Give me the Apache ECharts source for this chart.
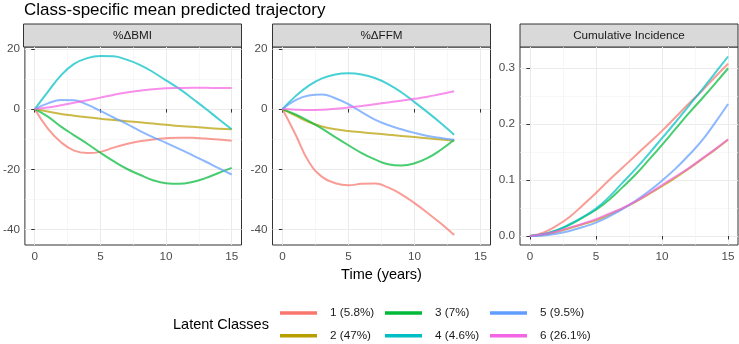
<!DOCTYPE html>
<html>
<head>
<meta charset="utf-8">
<script src="https://cdn.jsdelivr.net/npm/echarts@6/dist/echarts.min.js"></script>
<style>
html,body{margin:0;padding:0;background:#fff;}
#chart{width:739px;height:344px;}
</style>
</head>
<body>
<div id="chart"></div>
<script>
// ---- data ----
const classNames = ['1 (5.8%)','2 (47%)','3 (7%)','4 (4.6%)','5 (9.5%)','6 (26.1%)'];
const classColors = ['#F8766D','#B79F00','#00BA38','#00BFC4','#619CFF','#F564E3'];
const panelTitles = ['%\u0394BMI','%\u0394FFM','Cumulative Incidence'];

const yearsBMI = [0,1,2,3,4,5,6,7,8,9,10,11,12,13,14,15];
const bmi1 = [0,-6.5,-11,-13.8,-14.6,-14.2,-12.8,-11.6,-10.7,-10.1,-9.7,-9.5,-9.5,-9.8,-10.1,-10.5];
const bmi2 = [0,-0.8,-1.6,-2.2,-2.7,-3.2,-3.6,-4.0,-4.4,-4.8,-5.2,-5.6,-5.9,-6.2,-6.5,-6.7];
const bmi3 = [0,-2.5,-5.8,-8.7,-11.5,-14.5,-17.3,-19.8,-21.8,-23.6,-24.6,-24.8,-24.2,-22.9,-21.2,-19.5];
const bmi4 = [0,5.7,11.2,15,16.9,17.6,17.5,16.4,14.7,12.3,9.5,6.8,3.5,0.2,-3.3,-6.7];
const bmi5 = [0,1.9,3.0,2.9,1.5,-0.6,-2.8,-4.9,-7.2,-9.3,-11.2,-13.2,-15.3,-17.4,-19.6,-21.7];
const bmi6 = [0,0.5,1.3,2.1,2.9,3.8,4.7,5.5,6.1,6.6,6.9,7.0,7.05,7.05,7.0,7.0];

const yearsFFM = [0,1,2,3,4,5,6,7,8,9,10,11,12,13];
const ffm1 = [0,-8.5,-17.5,-22.5,-24.6,-25.3,-24.8,-24.7,-26.0,-28.3,-31.2,-34.5,-38,-41.8];
const ffm2 = [0,-2.2,-4.3,-5.8,-6.7,-7.3,-7.7,-8.1,-8.5,-8.9,-9.3,-9.7,-10.1,-10.5];
const ffm3 = [0,-1.8,-4.0,-6.5,-9.3,-12,-14.6,-16.7,-18.3,-18.7,-18,-16.2,-13.5,-10.2];
const ffm4 = [0,4.3,7.8,10.2,11.5,11.9,11.5,10.3,8.3,5.6,2.3,-1.1,-4.7,-8.5];
const ffm5 = [0,3,4.5,4.8,3.6,1.6,-1,-3.5,-5.3,-6.7,-7.9,-8.9,-9.6,-10.2];
const ffm6 = [0,-0.2,-0.3,-0.2,0.1,0.5,1.0,1.6,2.2,2.8,3.4,4.1,5.0,5.9];

const yearsCI = [0,1,2,3,4,5,6,7,8,9,10,11,12,13,14,15];
const ci1 = [0,0.006,0.018,0.034,0.055,0.077,0.100,0.122,0.144,0.166,0.188,0.212,0.236,0.259,0.284,0.308];
const ci2 = [0,0.002,0.007,0.014,0.021,0.028,0.038,0.049,0.061,0.075,0.089,0.104,0.120,0.137,0.154,0.172];
const ci3 = [0,0.003,0.010,0.020,0.033,0.047,0.065,0.087,0.110,0.136,0.163,0.191,0.219,0.245,0.272,0.300];
const ci4 = [0,0.003,0.010,0.021,0.034,0.049,0.070,0.095,0.120,0.147,0.175,0.203,0.232,0.261,0.291,0.321];
const ci5 = [0,0.001,0.004,0.009,0.016,0.024,0.035,0.048,0.063,0.080,0.099,0.120,0.144,0.170,0.202,0.236];
const ci6 = [0,0.003,0.008,0.015,0.022,0.030,0.040,0.050,0.062,0.076,0.091,0.106,0.121,0.138,0.155,0.173];

const xMajorTicks = [0,5,10,15];
const xMinorTicks = [2.5,7.5,12.5];
const yMajorTicksPct = [-40,-20,0,20];
const yMinorTicksPct = [-30,-10,10];
const yMajorTicksCI = [0,0.1,0.2,0.3];
const yMinorTicksCI = [0.05,0.15,0.25];

// ---- layout ----
const FONT = "'Liberation Sans', Arial, Helvetica, sans-serif";
const panelLeft = [23.5, 272.5, 520];
const panelW = 218, panelTop = 47, panelH = 198, stripH = 23;
const xRange = [-0.75, 15.75];
const yRanges = [[-45.1, 20.6], [-45.1, 20.6], [-0.0161, 0.338]];
const yMajor = [yMajorTicksPct, yMajorTicksPct, yMajorTicksCI];
const yMinor = [yMinorTicksPct, yMinorTicksPct, yMinorTicksCI];
const panelData = [
  {x: yearsBMI, ys: [bmi1,bmi2,bmi3,bmi4,bmi5,bmi6]},
  {x: yearsFFM, ys: [ffm1,ffm2,ffm3,ffm4,ffm5,ffm6]},
  {x: yearsCI, ys: [ci1,ci2,ci3,ci4,ci5,ci6]}
];

const grids = [], xAxes = [], yAxes = [], series = [], graphics = [];
for (let p = 0; p < 3; p++) {
  grids.push({left: panelLeft[p], top: panelTop, width: panelW, height: panelH,
    show: true, borderColor: '#333333', borderWidth: 1, backgroundColor: '#fff'});
  xAxes.push({
    type: 'value', gridIndex: p, min: xRange[0], max: xRange[1],
    axisLine: {show: false},
    axisTick: {show: true, customValues: xMajorTicks, length: 3.5, lineStyle: {color: '#333333', width: 1}},
    axisLabel: {customValues: xMajorTicks, color: '#4D4D4D', fontSize: 11.7, fontFamily: FONT, margin: 6},
    splitLine: {show: true, lineStyle: {color: '#EBEBEB', width: 1}},
    name: p === 1 ? 'Time (years)' : '', nameLocation: 'middle', nameGap: 19,
    nameTextStyle: {color: '#000', fontSize: 14.5, fontFamily: FONT}
  });
  xAxes.push({
    type: 'value', gridIndex: p, min: xRange[0], max: xRange[1],
    axisLine: {show: false}, axisTick: {show: false, customValues: xMinorTicks},
    axisLabel: {show: false, customValues: xMinorTicks},
    splitLine: {show: true, lineStyle: {color: '#F2F2F2', width: 0.6}}
  });
  yAxes.push({
    type: 'value', gridIndex: p, min: yRanges[p][0], max: yRanges[p][1],
    axisLine: {show: false},
    axisTick: {show: true, customValues: yMajor[p], length: 3.5, lineStyle: {color: '#333333', width: 1}},
    axisLabel: {customValues: yMajor[p], color: '#4D4D4D', fontSize: 11.7, fontFamily: FONT, margin: 5,
      formatter: p === 2 ? (v => v.toFixed(1)) : (v => String(Math.round(v)))},
    splitLine: {show: true, lineStyle: {color: '#EBEBEB', width: 1}}
  });
  yAxes.push({
    type: 'value', gridIndex: p, min: yRanges[p][0], max: yRanges[p][1],
    axisLine: {show: false}, axisTick: {show: false, customValues: yMinor[p]},
    axisLabel: {show: false, customValues: yMinor[p]},
    splitLine: {show: true, lineStyle: {color: '#F2F2F2', width: 0.6}}
  });
  for (let k = 0; k < 6; k++) {
    const xs = panelData[p].x, ys = panelData[p].ys[k];
    series.push({
      type: 'line', name: classNames[k], xAxisIndex: 2*p, yAxisIndex: 2*p,
      data: xs.map((t, i) => [t, ys[i]]),
      smooth: 0.45, symbol: 'none', showSymbol: false, silent: true,
      lineStyle: {width: 2, color: classColors[k], opacity: 0.72},
      itemStyle: {color: classColors[k], opacity: 1},
      z: 3 + k
    });
  }
  graphics.push({type: 'rect', shape: {x: panelLeft[p], y: panelTop - stripH, width: panelW, height: stripH},
    style: {fill: '#D9D9D9', stroke: '#333333', lineWidth: 1}, silent: true});
  graphics.push({type: 'text', x: panelLeft[p] + panelW/2, y: panelTop - stripH/2,
    style: {text: panelTitles[p], fill: '#1A1A1A', font: '11.7px ' + FONT, textAlign: 'center', textVerticalAlign: 'middle'}, silent: true});
}

graphics.push({type: 'text', x: 173, y: 325,
  style: {text: 'Latent Classes', fill: '#000', font: '14.5px ' + FONT, textAlign: 'left', textVerticalAlign: 'middle'}, silent: true});

const legendCols = [280, 385, 490];
const legends = legendCols.map((lx, c) => ({
  data: [classNames[2*c], classNames[2*c+1]],
  orient: 'vertical', left: lx, top: 306, itemWidth: 37, itemHeight: 3.5, icon: 'rect',
  itemGap: 8.7, selectedMode: false, padding: 0,
  itemStyle: {opacity: 1},
  textStyle: {fontSize: 11.7, color: '#1A1A1A', fontFamily: FONT, lineHeight: 14, padding: [0, 0, 0, 8]}
}));

const chart = echarts.init(document.getElementById('chart'), null, {renderer: 'canvas'});
chart.setOption({
  animation: false,
  backgroundColor: '#fff',
  title: {text: 'Class-specific mean predicted trajectory', left: 24, top: 2, padding: 0,
    textStyle: {fontSize: 17, fontWeight: 'normal', color: '#000', fontFamily: FONT}},
  grid: grids, xAxis: xAxes, yAxis: yAxes, series: series,
  legend: legends,
  graphic: graphics
});
</script>
</body>
</html>
